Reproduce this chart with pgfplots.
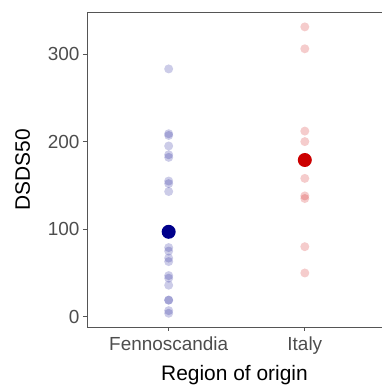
\documentclass[border=0pt]{standalone}
\usepackage{pgfplots}
\pgfplotsset{compat=1.18}
\usepackage{fontspec}
\setmainfont{Liberation Sans}
\definecolor{fenno}{HTML}{00008B}
\definecolor{ital}{HTML}{CC0000}
\definecolor{axgray}{HTML}{4D4D4D}
\definecolor{framegray}{HTML}{555555}
\begin{document}
\begin{tikzpicture}
\path[use as bounding box] (0,0) rectangle (382bp,386bp);
\begin{axis}[
  at={(87bp,59bp)}, anchor=south west,
  scale only axis,
  width=295bp, height=315bp,
  xmin=0.4, xmax=2.567,
  ymin=-11.7, ymax=348,
  axis x line*=box,
  axis y line*=left,
  axis line style={framegray, line width=0.9bp},
  xtick={1,2},
  xticklabels={Fennoscandia, Italy},
  ytick={0,100,200,300},
  tick align=outside,
  major tick length=4bp,
  tick style={framegray, line width=0.9bp},
  xtick pos=bottom,
  ytick pos=left,
  tick label style={font=\fontsize{19}{22}\selectfont, text=axgray},
  /pgf/number format/assume math mode=true,
  xlabel={Region of origin},
  ylabel={DSDS50},
  label style={font=\fontsize{21}{24}\selectfont},
  xlabel style={yshift=-4.5bp},
  ylabel style={yshift=11bp},
  xticklabel style={yshift=-2bp},
  clip=false,
]
\addplot[only marks, mark=*, color=fenno, mark size=4.5bp, mark options={fill=fenno, fill opacity=0.2, draw opacity=0}]
coordinates {(1,283) (1,209) (1,207) (1,195) (1,185) (1,182) (1,155) (1,152) (1,143) (1,79) (1,75) (1,67) (1,63) (1,47) (1,44) (1,36) (1,19) (1,19) (1,7) (1,4)};
\addplot[only marks, mark=*, color=ital, mark size=4.5bp, mark options={fill=ital, fill opacity=0.2, draw opacity=0}]
coordinates {(2,331) (2,306) (2,212) (2,200) (2,158) (2,138) (2,135) (2,80) (2,50)};
\addplot[only marks, mark=*, color=fenno, mark size=7bp, mark options={fill=fenno, draw opacity=0}]
coordinates {(1,97)};
\addplot[only marks, mark=*, color=ital, mark size=7bp, mark options={fill=ital, draw opacity=0}]
coordinates {(2,179)};
\end{axis}
\end{tikzpicture}
\end{document}
